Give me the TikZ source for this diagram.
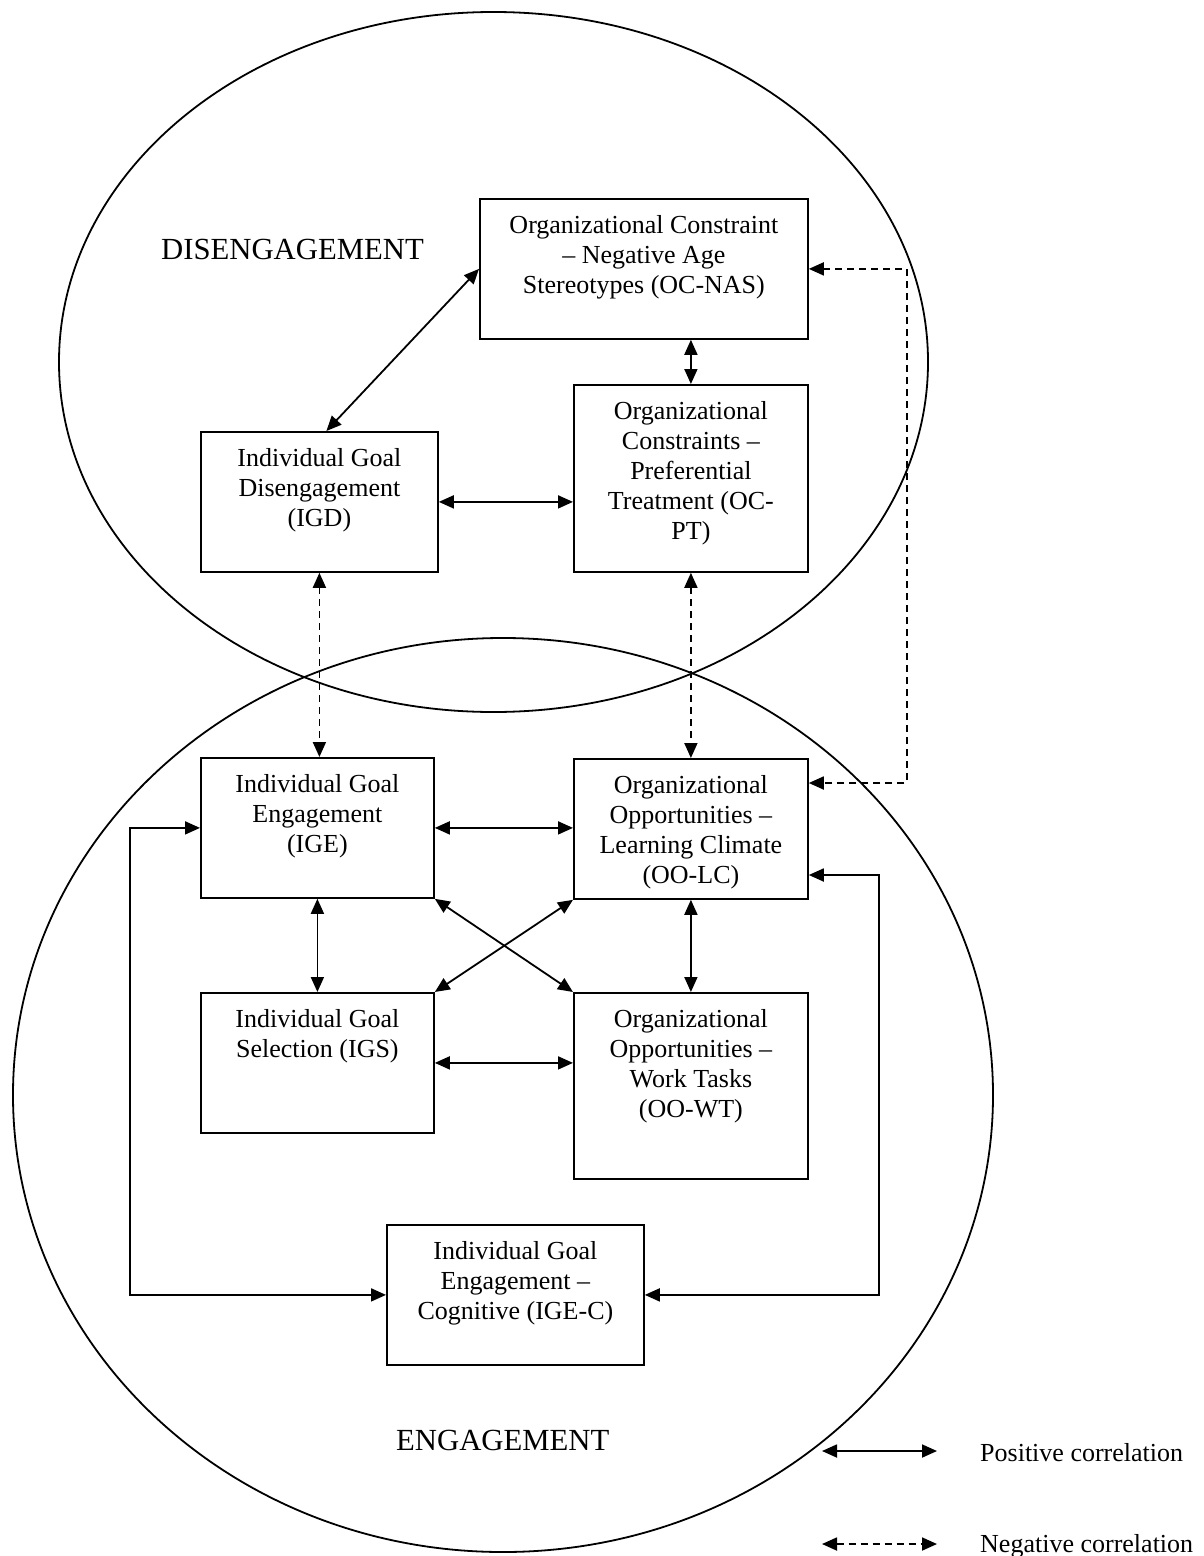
\documentclass[tikz,border=0pt]{standalone}
\usepackage{fontspec}
\setmainfont{Liberation Serif}
\usetikzlibrary{arrows.meta,calc}
\newcommand\bxtext[3]{\parbox[c][#2bp][t]{#1bp}{\centering\rule{0pt}{34.5bp}#3}}
\begin{document}
\begin{tikzpicture}[x=1bp,y=-1bp,
  box/.style={draw, fill=white, line width=1.8bp, inner sep=0pt, anchor=north west, font=\fontsize{26bp}{30bp}\selectfont},
  posarrow/.style={line width=1.8bp, {Triangle[length=15bp,width=13bp]}-{Triangle[length=15bp,width=13bp]}},
  negarrow/.style={posarrow, dash pattern=on 7bp off 5bp},
  lab/.style={inner sep=0pt, font=\fontsize{26bp}{30bp}\selectfont},
  biglabel/.style={inner sep=0pt, font=\fontsize{30.7bp}{36bp}\selectfont},
  region/.style={line width=1.8bp}]
\useasboundingbox (0,0) rectangle (1203,1556);

% regions
\draw[region] (493.5,362) ellipse [x radius=434.5bp, y radius=350bp];
\draw[region] (503,1095) ellipse [x radius=490bp, y radius=457bp];

% boxes
\node[box] (OCNAS) at (479,198) {\bxtext{328}{140}{Organizational Constraint\\ – Negative Age\\ Stereotypes (OC-NAS)}};
\node[box] (OCPT) at (573,384) {\bxtext{234}{187}{Organizational\\ Constraints –\\ Preferential\\ Treatment (OC-\\ PT)}};
\node[box] (IGD) at (200,431) {\bxtext{237}{140}{Individual Goal\\ Disengagement\\ (IGD)}};
\node[box] (IGE) at (200,757) {\bxtext{233}{140}{Individual Goal\\ Engagement\\ (IGE)}};
\node[box] (IGS) at (200,992) {\bxtext{233}{140}{Individual Goal\\ Selection (IGS)}};
\node[box] (OOLC) at (573,758) {\bxtext{234}{140}{Organizational\\ Opportunities –\\ Learning Climate\\ (OO-LC)}};
\node[box] (OOWT) at (573,992) {\bxtext{234}{186}{Organizational\\ Opportunities –\\ Work Tasks\\ (OO-WT)}};
\node[box] (IGEC) at (386,1224) {\bxtext{257}{140}{Individual Goal\\ Engagement –\\ Cognitive (IGE-C)}};

% region labels
\node[biglabel, anchor=base west] (dis) at (161,259) {DISENGAGEMENT};
\node[biglabel, anchor=base west] (eng) at (396,1450) {ENGAGEMENT};

% connectors
\draw[posarrow] ([xshift=7bp]IGD.north) -- (OCNAS.west);
\draw[posarrow] (OCNAS.south -| OCPT.north) -- (OCPT.north);
\draw[posarrow] (IGD.east) -- (IGD.east -| OCPT.west);
\draw[negarrow] (IGD.south) -- (IGD.south |- IGE.north);
\draw[negarrow] (OCPT.south) -- (OCPT.south |- OOLC.north);
\draw[negarrow] (OCNAS.east) -- ++(98,0) |- (OOLC.east |- 0,783);
\draw[posarrow] (IGE.east) -- (IGE.east -| OOLC.west);
\draw[posarrow] (IGE.south) -- (IGE.south |- IGS.north);
\draw[posarrow] (OOLC.south) -- (OOLC.south |- OOWT.north);
\draw[posarrow] (IGE.south east) -- (OOWT.north west);
\draw[posarrow] (OOLC.south west) -- (IGS.north east);
\draw[posarrow] (IGS.east) -- (IGS.east -| OOWT.west);
\draw[posarrow] (IGE.west) -- ++(-70,0) |- (IGEC.west);
\draw[posarrow] (OOLC.east |- 0,875) -- ++(70,0) |- (IGEC.east);

% legend
\coordinate (p1) at (822,1451);
\coordinate (p2) at (937,1451);
\draw[posarrow] (p1) -- (p2);
\coordinate (n1) at (822,1544);
\coordinate (n2) at (937,1544);
\draw[negarrow] (n1) -- (n2);
\node[lab, anchor=base west] (ptext) at (980,1461) {Positive correlation};
\node[lab, anchor=base west] (ntext) at (980,1552) {Negative correlation};
\end{tikzpicture}
\end{document}
